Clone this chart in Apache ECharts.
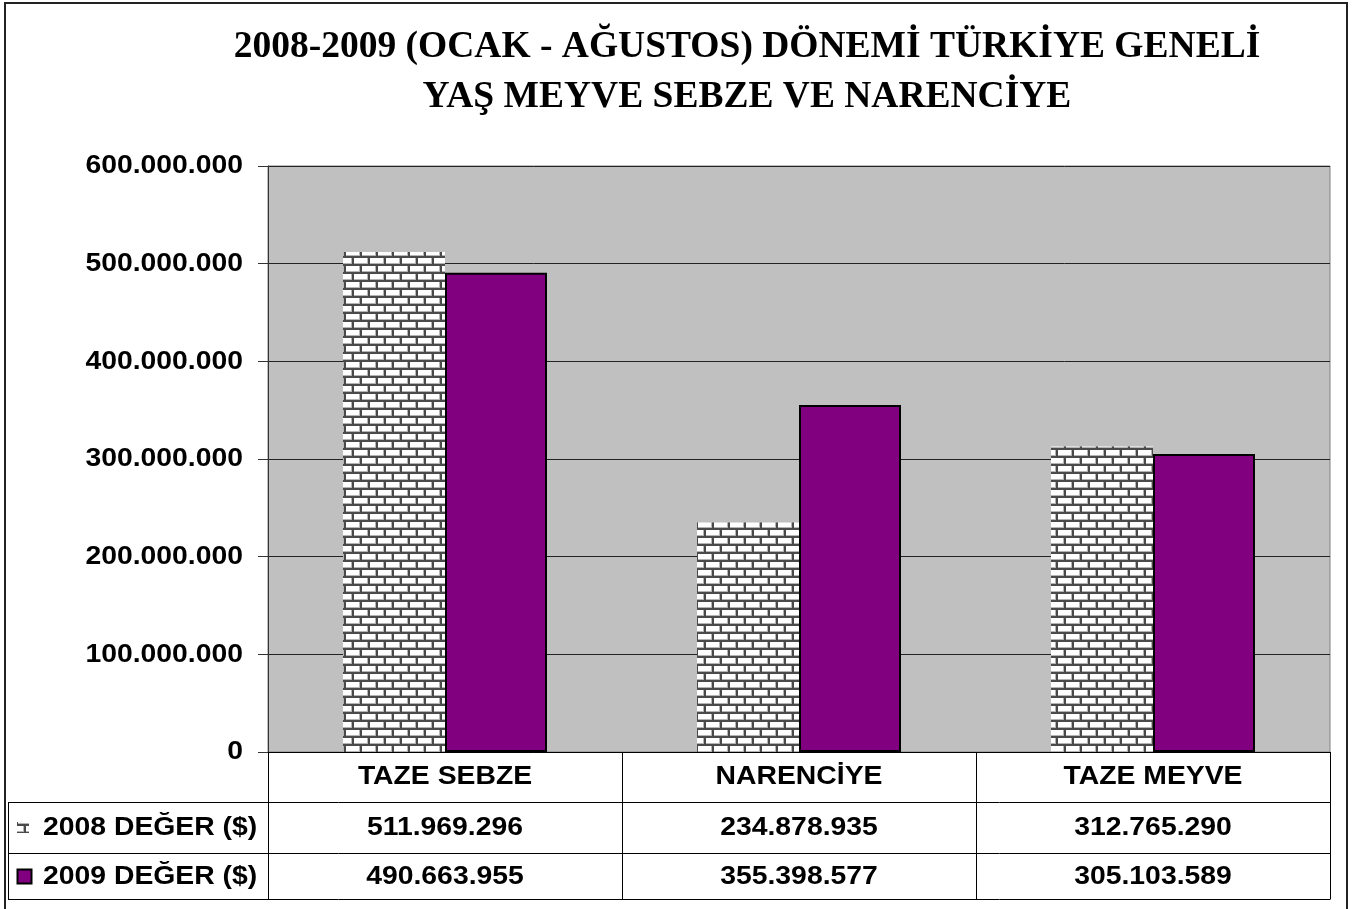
<!DOCTYPE html>
<html>
<head>
    <meta http-equiv=Content-Type content="text/html; charset=utf-8">
    <title>Yaş Meyve Sebze ve Narenciye</title>
    <script type="text/javascript" src="https://cdn.jsdelivr.net/npm/echarts@6/dist/echarts.min.js"></script>
    <style>
        html, body {margin: 0; padding: 0; background: #fff;}
        #chartmain {width: 1353px; height: 909px;}
    </style>
</head>
<body>
<div id="chartmain"></div>

<script type="text/javascript">
    var titleLines = ['2008-2009 (OCAK - AĞUSTOS) DÖNEMİ TÜRKİYE GENELİ', 'YAŞ MEYVE SEBZE VE NARENCİYE'];
    var categories = ['TAZE SEBZE', 'NARENCİYE', 'TAZE MEYVE'];
    var seriesNames = ['2008 DEĞER ($)', '2009 DEĞER ($)'];
    var values2008 = [511969296, 234878935, 312765290];
    var values2009 = [490663955, 355398577, 305103589];
    var yTicks = [0, 100000000, 200000000, 300000000, 400000000, 500000000, 600000000];

    //sayıyı 511.969.296 biçiminde yaz
    function fmt(v) {
        return String(v).replace(/\B(?=(\d{3})+(?!\d))/g, '.');
    }

    //tuğla deseni
    function brickTile() {
        var c = document.createElement('canvas');
        c.width = 16;
        c.height = 16;
        var g = c.getContext('2d');
        g.fillStyle = '#4a4a4a';
        g.fillRect(0, 0, 16, 16);
        for (var r = 0; r < 2; r++) {
            var y = r * 8;
            var off = r * 8;
            for (var k = -1; k < 2; k++) {
                var x = off + k * 16 + 2;
                g.fillStyle = '#b4b4b4';
                g.fillRect(x, y + 2, 14, 6);
                g.fillStyle = '#ffffff';
                g.fillRect(x, y + 2, 13, 5);
            }
        }
        return c;
    }

    var tile = brickTile();
    var gridL = 268, gridR = 1330, gridT = 166, gridB = 752;
    var rowLines = [802.5, 853.5, 899.5];
    var font = '"Liberation Sans", Arial, sans-serif';
    var txtFont = 'bold 26px ' + font;
    var stretch = 1.09; //yazılar biraz geniş

    var myChart = echarts.init(document.getElementById('chartmain'));

    var option = {
        backgroundColor: '#fff',
        animation: false,
        title: {
            text: titleLines.join('\n'),
            left: 742,
            top: 17,
            textAlign: 'center',
            textStyle: {
                fontFamily: '"Liberation Serif", "Times New Roman", serif',
                fontWeight: 'bold',
                fontSize: 37.5,
                lineHeight: 50,
                color: '#000'
            }
        },
        grid: {
            left: gridL,
            right: 1353 - gridR,
            top: gridT,
            bottom: 909 - gridB,
            show: true,
            backgroundColor: '#c0c0c0',
            borderColor: '#808080',
            borderWidth: 1
        },
        xAxis: {
            type: 'category',
            data: categories,
            axisLine: {lineStyle: {color: '#000', width: 1}},
            axisTick: {show: true, length: rowLines[2] - gridB, lineStyle: {color: '#000'}},
            axisLabel: {show: false}
        },
        yAxis: {
            type: 'value',
            min: yTicks[0],
            max: yTicks[yTicks.length - 1],
            interval: yTicks[1] - yTicks[0],
            axisLine: {show: true, lineStyle: {color: '#333'}},
            axisTick: {show: true, length: 10, lineStyle: {color: '#333'}},
            splitLine: {lineStyle: {color: '#222', width: 1}},
            axisLabel: {show: false}
        },
        series: [
            {
                name: seriesNames[0],
                type: 'bar',
                data: values2008,
                barWidth: 102,
                barGap: '0%',
                itemStyle: {color: {image: tile, repeat: 'repeat'}}
            },
            {
                name: seriesNames[1],
                type: 'bar',
                data: values2009,
                barWidth: 102,
                itemStyle: {color: '#800080', borderColor: '#000', borderWidth: 2}
            }
        ]
    };
    myChart.setOption(option);

    function label(x, y, text, align) {
        return {
            type: 'text', x: x, y: y, scaleX: stretch, silent: true,
            style: {text: text, font: txtFont, fill: '#000', align: align, verticalAlign: 'middle'}
        };
    }

    var gr = [];
    //dış çerçeve (alt kenar görünmüyor)
    gr.push({type: 'rect', shape: {x: 5, y: 3, width: 1342, height: 920}, style: {fill: null, stroke: '#222', lineWidth: 2}, silent: true});

    //y ekseni etiketleri
    for (var t = 0; t < yTicks.length; t++) {
        var ty = myChart.convertToPixel({yAxisIndex: 0}, yTicks[t]);
        gr.push(label(243, ty, fmt(yTicks[t]), 'right'));
    }

    //alttaki veri tablosu
    for (var i = 0; i < rowLines.length; i++) {
        gr.push({type: 'line', shape: {x1: 8, y1: rowLines[i], x2: gridR, y2: rowLines[i]}, style: {stroke: '#000', lineWidth: 1}});
    }
    gr.push({type: 'line', shape: {x1: 8.5, y1: rowLines[0], x2: 8.5, y2: rowLines[2]}, style: {stroke: '#000', lineWidth: 1}});

    var headY = (gridB + rowLines[0]) / 2;
    for (var j = 0; j < categories.length; j++) {
        gr.push(label(myChart.convertToPixel({xAxisIndex: 0}, categories[j]), headY, categories[j], 'center'));
    }

    var rows = [values2008, values2009];
    for (var r = 0; r < rows.length; r++) {
        var cy = (rowLines[r] + rowLines[r + 1]) / 2;
        for (var j2 = 0; j2 < categories.length; j2++) {
            var cx = myChart.convertToPixel({xAxisIndex: 0}, categories[j2]);
            gr.push(label(cx, cy, fmt(rows[r][j2]), 'center'));
        }
        gr.push(label(43, cy, seriesNames[r], 'left'));
    }
    //lejant işaretleri
    var cy0 = (rowLines[0] + rowLines[1]) / 2;
    var cy1 = (rowLines[1] + rowLines[2]) / 2;
    gr.push({type: 'rect', shape: {x: 17, y: cy0 - 6, width: 12, height: 11}, style: {fill: {image: tile, repeat: 'repeat'}}});
    gr.push({type: 'rect', shape: {x: 17.5, y: cy1 - 7, width: 14, height: 14}, style: {fill: '#800080', stroke: '#000', lineWidth: 2}});

    myChart.setOption({graphic: gr});
</script>
</body>
</html>
